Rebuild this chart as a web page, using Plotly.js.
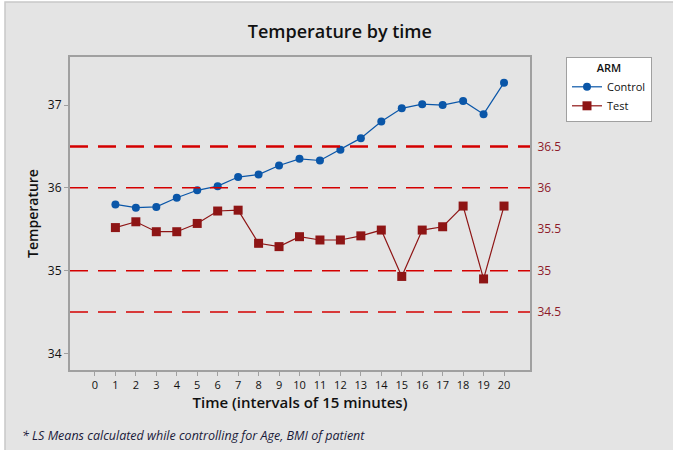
<!DOCTYPE html>
<html>
<head>
<meta charset="utf-8">
<script src="https://cdn.plot.ly/plotly-3.0.1.min.js"></script>
<style>html,body{margin:0;padding:0;background:#fff;}#chart{width:673px;height:450px;}</style>
</head>
<body>
<div id="chart"></div>
<script>
const timePoints = [1,2,3,4,5,6,7,8,9,10,11,12,13,14,15,16,17,18,19,20];
const controlTemp = [35.80,35.76,35.77,35.88,35.97,36.02,36.13,36.16,36.27,36.35,36.33,36.46,36.60,36.80,36.96,37.01,37.00,37.05,36.89,37.27];
const testTemp = [35.52,35.59,35.47,35.47,35.57,35.72,35.73,35.33,35.29,35.41,35.37,35.37,35.42,35.49,34.93,35.49,35.53,35.78,34.90,35.78];
const xTicks = [0,1,2,3,4,5,6,7,8,9,10,11,12,13,14,15,16,17,18,19,20];
const leftTicks = [34,35,36,37];
const rightTicks = [34.5,35,35.5,36,36.5];
const refLines = [34.5,35,36,36.5];
const refWidths = [1.5,1.5,1.5,2.5];

const F = '"Open Sans", "Noto Sans", sans-serif';
// plot area pixels: x 70..530, y 57..370
const L = 70, R = 530, T = 57, B = 370;
function px(x){ return (x - L) / (R - L); }
function py(y){ return (B - y) / (B - T); }

const traces = [
  {x: timePoints, y: controlTemp, name: 'Control', type: 'scatter', mode: 'lines+markers',
   line: {color: '#0a56a8', width: 1.2}, marker: {symbol: 'circle', size: 8, color: '#0a56a8'}},
  {x: timePoints, y: testTemp, name: 'Test', type: 'scatter', mode: 'lines+markers',
   line: {color: '#8e1515', width: 1.2}, marker: {symbol: 'square', size: 9, color: '#8e1515'}},
  {x: [null], y: [null], yaxis: 'y2', showlegend: false, hoverinfo: 'skip', mode: 'markers'}
];

const shapes = [
  {type: 'rect', xref: 'paper', yref: 'paper', x0: px(5), x1: px(700), y0: py(2), y1: py(470),
   fillcolor: '#e4e4e4', line: {color: '#c8c8c8', width: 1.5}, layer: 'below'}
];
refLines.forEach((v, i) => shapes.push({type: 'line', xref: 'paper', yref: 'y', x0: 0, x1: 1, y0: v, y1: v,
  line: {color: '#d40000', width: refWidths[i], dash: '18px,10px'}}));

const layout = {
  width: 673, height: 450,
  margin: {l: L, r: 673 - R, t: T, b: 450 - B, pad: 0},
  paper_bgcolor: '#ffffff', plot_bgcolor: '#ffffff',
  title: {text: 'Temperature by time', x: 0.505, xanchor: 'center', y: 1 - 32/450, yanchor: 'middle',
          font: {family: F, size: 18, color: '#111', weight: 600}},
  xaxis: {range: [-1.22, 21.27], tickvals: xTicks, ticktext: xTicks.map(String),
          showgrid: false, zeroline: false, showline: true, linecolor: '#a0a0a0', linewidth: 2, mirror: true,
          ticks: 'outside', ticklen: 4, tickcolor: '#a0a0a0', tickwidth: 1,
          tickfont: {family: F, size: 11, color: '#111'},
          title: {text: 'Time (intervals of 15 minutes)', standoff: 5, font: {family: F, size: 15, color: '#111', weight: 600}}},
  yaxis: {range: [33.8, 37.58], tickvals: leftTicks, ticktext: leftTicks.map(String),
          showgrid: false, zeroline: false, showline: true, linecolor: '#a0a0a0', linewidth: 2, mirror: true,
          ticks: 'outside', ticklen: 4, tickcolor: '#a0a0a0', tickwidth: 1,
          tickfont: {family: F, size: 12, color: '#111'},
          title: {text: 'Temperature', standoff: 6, font: {family: F, size: 14, color: '#111', weight: 600}}},
  yaxis2: {range: [33.8, 37.58], overlaying: 'y', side: 'right', tickvals: rightTicks, ticktext: rightTicks.map(String),
           showgrid: false, zeroline: false, showline: false, ticks: 'outside', ticklen: 4, tickcolor: 'rgba(0,0,0,0)',
           tickfont: {family: F, size: 12, color: '#8e1a2a'}},
  legend: {x: px(566), y: py(57), xanchor: 'left', yanchor: 'top', bgcolor: '#ffffff',
           bordercolor: '#a0a0a0', borderwidth: 1, font: {family: F, size: 11, color: '#111'},
           title: {text: 'ARM', side: 'top center', font: {family: F, size: 11, color: '#111', weight: 600}},
           tracegroupgap: 0, itemwidth: 30},
  shapes: shapes,
  annotations: [
    {text: '* LS Means calculated while controlling for Age, BMI of patient', xref: 'paper', yref: 'paper',
     x: px(20), y: py(435), xanchor: 'left', yanchor: 'middle', showarrow: false,
     font: {family: F, size: 12.5, color: '#1a1a3a', style: 'italic'}}
  ],
  showlegend: true
};

Plotly.newPlot('chart', traces, layout, {displayModeBar: false, staticPlot: true});
</script>
</body>
</html>
